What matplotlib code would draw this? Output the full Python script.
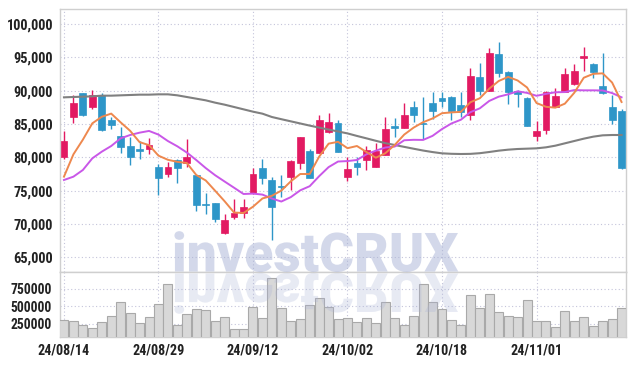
import matplotlib
matplotlib.use("Agg")

import matplotlib.pyplot as plt
import numpy as np
from matplotlib import font_manager
from matplotlib.font_manager import FontProperties, fontManager
from matplotlib.patheffects import AbstractPathEffect
from matplotlib.ticker import FuncFormatter
from matplotlib.transforms import Affine2D

W_PX, H_PX = 634, 366

DATES = [
    "24/08/14", "24/08/16", "24/08/19", "24/08/20", "24/08/21", "24/08/22", "24/08/23",
    "24/08/26", "24/08/27", "24/08/28", "24/08/29", "24/08/30", "24/09/02", "24/09/03",
    "24/09/04", "24/09/05", "24/09/06", "24/09/09", "24/09/10", "24/09/11", "24/09/12",
    "24/09/13", "24/09/19", "24/09/20", "24/09/23", "24/09/24", "24/09/25", "24/09/26",
    "24/09/27", "24/09/30", "24/10/02", "24/10/04", "24/10/07", "24/10/08", "24/10/10",
    "24/10/11", "24/10/14", "24/10/15", "24/10/16", "24/10/17", "24/10/18", "24/10/21",
    "24/10/22", "24/10/23", "24/10/24", "24/10/25", "24/10/28", "24/10/29", "24/10/30",
    "24/10/31", "24/11/01", "24/11/04", "24/11/05", "24/11/06", "24/11/07", "24/11/08",
    "24/11/11", "24/11/12", "24/11/13", "24/11/14",
]

OPEN = [80000, 86000, 89600, 87500, 89400, 85600, 83200, 81700, 81200, 81200,
        78600, 77450, 79600, 79200, 77350, 72950, 73100, 68700, 71100, 71600,
        74600, 78350, 76600, 75700, 77100, 79100, 80950, 80700, 83850, 85200,
        77100, 79100, 79600, 78600, 80350, 84700, 84450, 87500, 85200, 88200,
        88900, 89100, 87850, 86350, 92050, 90000, 95500, 92850, 90000, 88950,
        83250, 84100, 87600, 89850, 91000, 94950, 94000, 90700, 87600, 86950]
HIGH = [83900, 89400, 89700, 90100, 89700, 86100, 84600, 83000, 82400, 82850,
        79000, 79250, 79700, 82700, 77400, 74700, 73150, 71450, 73700, 73700,
        78350, 79700, 77000, 77350, 79600, 83050, 81200, 86350, 86600, 85600,
        80000, 80100, 81700, 82100, 86100, 85850, 88200, 88500, 89000, 89850,
        89750, 89200, 89850, 93350, 94100, 96350, 97350, 93000, 90100, 89000,
        85450, 89900, 90450, 93350, 93950, 96600, 94200, 95600, 89350, 87250]
LOW = [79700, 85100, 86200, 87200, 84000, 84300, 80600, 78900, 79800, 80500,
       74400, 77100, 76100, 78500, 72000, 71500, 70350, 68450, 70750, 70850,
       74500, 75950, 67600, 74000, 75100, 78200, 76900, 80600, 83700, 80800,
       76450, 77350, 78100, 78500, 80300, 83000, 84400, 85350, 82700, 85700,
       87600, 85600, 86100, 85600, 89350, 89900, 92000, 88000, 87600, 84700,
       82450, 83450, 87500, 89800, 90800, 92950, 91950, 89500, 84950, 78300]
CLOSE = [82400, 88200, 86300, 89400, 84100, 84800, 81600, 80000, 80900, 81850,
         76900, 78500, 78450, 80050, 72850, 72800, 70750, 70600, 71600, 72500,
         77500, 76950, 72600, 75500, 79450, 83000, 76950, 85600, 85250, 80850,
         78200, 78600, 81100, 80950, 84200, 84450, 86350, 86350, 85000, 87000,
         88400, 86950, 86750, 92200, 90000, 95600, 92700, 89850, 89500, 84750,
         83950, 89850, 89200, 92500, 92950, 95200, 92750, 89600, 85600, 78350]
VOLUME = [305000, 280000, 233000, 185000, 272000, 362000, 559000, 401000, 257000, 343000,
          530000, 817000, 233000, 386000, 463000, 450000, 290000, 343000, 171000, 171000,
          491000, 329000, 904000, 473000, 286000, 315000, 520000, 616000, 491000, 315000,
          329000, 272000, 329000, 257000, 559000, 329000, 233000, 362000, 817000, 559000,
          463000, 300000, 233000, 660000, 473000, 674000, 415000, 362000, 343000, 592000,
          286000, 286000, 204000, 430000, 286000, 343000, 218000, 286000, 315000, 477000]

MA5 = [77100, 80450, 82650, 85100, 86080, 86560, 85240, 83980, 82280, 81830,
       80250, 79630, 79320, 79150, 77350, 76530, 74980, 73410, 71720, 71650,
       72590, 73830, 74230, 75010, 76400, 77500, 77500, 80100, 82050, 82330,
       81370, 81700, 80800, 79940, 80610, 81860, 83410, 84460, 85270, 85830,
       86620, 86740, 86820, 88260, 88860, 90300, 91450, 92070, 91530, 90480,
       88150, 87580, 87450, 88050, 89690, 91940, 92520, 92600, 91220, 88300]
MA10 = [76600, 77100, 78100, 79850, 80850, 81700, 82850, 83350, 83700, 83960,
        83410, 82440, 81650, 80720, 79590, 78390, 77310, 76370, 75440, 74500,
        74560, 74410, 73820, 73370, 74030, 75050, 75670, 77170, 78530, 79370,
        79440, 79600, 80450, 81000, 81470, 81620, 82560, 82630, 82610, 83220,
        84240, 85080, 85640, 86770, 87350, 88460, 89100, 89450, 89900, 89670,
        89230, 89520, 89760, 89790, 90090, 90050, 90050, 90030, 89640, 89000]
MA_LONG = [89000, 89050, 89100, 89150, 89250, 89250, 89300, 89350, 89400, 89400,
           89450, 89450, 89300, 89050, 88800, 88550, 88200, 87900, 87550, 87200,
           86850, 86550, 86050, 85720, 85400, 85080, 84760, 84460, 84170, 83880,
           83590, 83210, 82850, 82480, 82130, 81850, 81570, 81290, 81020, 80790,
           80600, 80530, 80500, 80520, 80620, 80800, 81000, 81150, 81250, 81300,
           81350, 81500, 81750, 82100, 82450, 82800, 83100, 83300, 83350, 83350]

PRICE_TICKS = [65000, 70000, 75000, 80000, 85000, 90000, 95000, 100000]
VOLUME_TICKS = [250000, 500000, 750000]
WATERMARK = "investCRUX"

UP_COLOR = "#e21a62"
DOWN_COLOR = "#2e96c8"
FRAME_COLOR = "#cfcfcf"
GRID_COLOR = "#c4c4da"
TEXT_COLOR = "#222222"
WM_COLOR = "#a9b3d6"

NAME_TOKENS = {"Condensed", "SemiCondensed", "Narrow", "SemiBold", "Medium", "Bold",
               "Regular", "Black", "ExtraBold", "Heavy", "Light", "Thin", "ExtraLight",
               "Semibold", "Extrabold", "Cond", "Condensed,"}


def weight_of(entry):
    w = entry.weight
    if isinstance(w, str):
        w = font_manager.weight_dict.get(w, 400)
    return int(w)


def find_font(families, weight, condensed, weight_first=False):
    best, best_key = None, None
    for f in fontManager.ttflist:
        if f.style != "normal":
            continue
        rank = None
        for i, fam in enumerate(families):
            if f.name.startswith(fam):
                rest = f.name[len(fam):].split()
                if all(tok in NAME_TOKENS for tok in rest):
                    rank = i
                    break
        if rank is None:
            continue
        tag = (str(f.stretch) + " " + f.name + " " + f.fname).lower()
        if "extra" in tag and "condensed" in tag or "ultra" in tag:
            continue
        is_cond = "condensed" in tag or "narrow" in tag
        if is_cond != condensed:
            continue
        dw = abs(weight_of(f) - weight)
        key = (dw, rank) if weight_first else (rank, dw)
        if best_key is None or key < best_key:
            best, best_key = f.fname, key
    return best


class ScaleEffect(AbstractPathEffect):
    """Draw the text path scaled around a fixed point in display pixels."""

    def __init__(self, origin, sx, sy):
        super().__init__()
        self.origin = origin
        self.sx = sx
        self.sy = sy

    def draw_path(self, renderer, gc, tpath, affine, rgbFace=None):
        ox, oy = self.origin
        extra = Affine2D().translate(-ox, -oy).scale(self.sx, self.sy).translate(ox, oy)
        renderer.draw_path(gc, tpath, affine + extra, rgbFace)


def px_rect(x0, y0, x1, y1):
    return [x0 / W_PX, 1 - y1 / H_PX, (x1 - x0) / W_PX, (y1 - y0) / H_PX]


def style_axes(ax):
    for spine in ax.spines.values():
        spine.set_color(FRAME_COLOR)
        spine.set_linewidth(1.0)
    ax.grid(True, color=GRID_COLOR, linestyle=(0, (1, 2.2)), linewidth=0.8)
    ax.set_axisbelow(True)
    ax.tick_params(length=0, colors=TEXT_COLOR)


def main():
    label_file = find_font(["Noto Sans", "Roboto", "DejaVu Sans", "Open Sans",
                            "Liberation Sans"], 600, True)
    if label_file:
        label_font = dict(fname=label_file)
        scale = 1.0
    else:
        label_font = dict(family=["Roboto", "DejaVu Sans"], weight="medium")
        scale = 0.88
    wm_file = find_font(["Roboto", "Lato", "Inter", "Noto Sans", "Open Sans",
                         "Liberation Sans", "DejaVu Sans"], 900, False, weight_first=True)
    wm_font = dict(fname=wm_file) if wm_file else dict(family="DejaVu Sans", weight="bold")

    x = np.arange(len(DATES))
    o, h, l, c = (np.array(v, dtype=float) for v in (OPEN, HIGH, LOW, CLOSE))
    colors = np.where(c >= o, UP_COLOR, DOWN_COLOR)

    fig = plt.figure(figsize=(W_PX / 100, H_PX / 100), dpi=100)
    ax = fig.add_axes(px_rect(60, 9, 626, 272))
    axv = fig.add_axes(px_rect(60, 272, 626, 337), sharex=ax)

    # price panel
    ax.vlines(x, l, h, colors=colors, linewidth=1.0, zorder=3)
    body_h = np.maximum(np.abs(c - o), 120)
    ax.bar(x, body_h, bottom=np.minimum(o, c), width=0.72, color=colors,
           edgecolor=colors, linewidth=0.5, zorder=4)
    ax.plot(x, MA_LONG, color="#808080", linewidth=1.5, zorder=5)
    ax.plot(x, MA10, color="#c957e8", linewidth=1.4, zorder=5)
    ax.plot(x, MA5, color="#ee884e", linewidth=1.4, zorder=6)

    ax.set_xlim(-0.42, len(DATES) - 0.53)
    ax.set_ylim(62800, 102250)
    ax.set_yticks(PRICE_TICKS)
    ax.yaxis.set_major_formatter(FuncFormatter(lambda v, _p: f"{v:,.0f}"))
    style_axes(ax)
    ax.tick_params(axis="x", labelbottom=False)
    for t in ax.get_yticklabels():
        t.set_fontproperties(FontProperties(size=10.4 * scale, **label_font))
    ax.tick_params(axis="y", pad=5)

    # volume panel
    axv.bar(x, VOLUME, width=0.95, color="#d8d8d8", edgecolor="#a9a9a9",
            linewidth=0.8, zorder=3)
    axv.set_ylim(56000, 994000)
    axv.set_yticks(VOLUME_TICKS)
    axv.yaxis.set_major_formatter(FuncFormatter(lambda v, _p: f"{v:.0f}"))
    axv.set_xticks(x[::10])
    axv.set_xticklabels(DATES[::10])
    style_axes(axv)
    for t in axv.get_yticklabels():
        t.set_fontproperties(FontProperties(size=9.8 * scale, **label_font))
    for t in axv.get_xticklabels():
        t.set_fontproperties(FontProperties(size=10.2 * scale, **label_font))
    axv.tick_params(axis="y", pad=6)
    axv.tick_params(axis="x", pad=5)

    # watermark and its reflection, kept as real text
    wm_prop = FontProperties(size=40, **wm_font)
    x0, base = 172, H_PX - 271.5
    main_txt = fig.text(x0 / W_PX, base / H_PX, WATERMARK, fontproperties=wm_prop,
                        color=WM_COLOR, alpha=0.5, ha="left", va="baseline", zorder=10)
    refl_txt = fig.text(x0 / W_PX, base / H_PX, WATERMARK, fontproperties=wm_prop,
                        color=WM_COLOR, alpha=0.27, ha="left", va="baseline", zorder=10)
    fig.canvas.draw()
    renderer = fig.canvas.get_renderer()
    bb = main_txt.get_window_extent(renderer)
    sx = 286 / bb.width
    cap_h = 0.72 * wm_prop.get_size_in_points() * fig.dpi / 72
    sy = 39 / cap_h
    main_txt.set_path_effects([ScaleEffect((x0, base), sx, sy)])
    refl_txt.set_path_effects([ScaleEffect((x0, base - 1), sx, -sy)])

    fig.savefig("out.png", dpi=100)
    plt.close(fig)


if __name__ == "__main__":
    main()
